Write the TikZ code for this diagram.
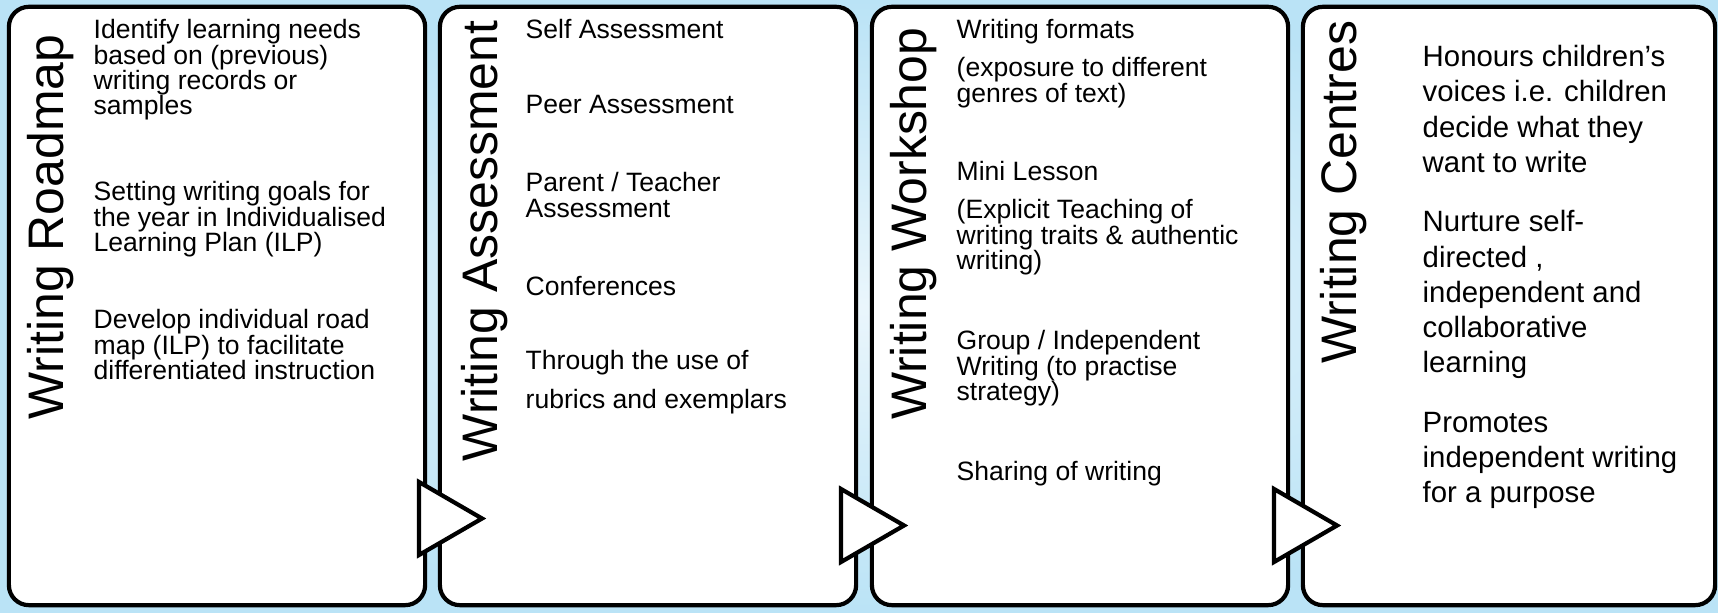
\documentclass[tikz,border=0pt]{standalone}
\usepackage{fontspec}
\setmainfont{Liberation Sans}
\usetikzlibrary{shapes.geometric}
\definecolor{skyedge}{HTML}{BAE3F6}
\definecolor{skymid}{HTML}{EAF6FC}
\tikzset{
    panel/.style = {
        draw,
        shape=rectangle,
        rounded corners=0.2cm,
        minimum height=5.98cm,
        minimum width=4.16cm,
        line width=0.042cm,
        fill=white
    },
    heading/.style = {
        rotate=90,
        anchor=base east,
        inner sep=0pt,
        font=\fontsize{14.2}{17}\selectfont
    },
    item/.style = {
        anchor=north west,
        inner sep=0pt,
        align=left,
        font=\fontsize{7.55}{7.15}\selectfont
    },
    bigitem/.style = {
        item,
        font=\fontsize{8.35}{9.96}\selectfont
    },
    chevron/.style = {
        draw,
        shape=isosceles triangle,
        isosceles triangle stretches,
        minimum width=0.73cm,
        minimum height=0.63cm,
        inner sep=0pt,
        outer sep=0pt,
        anchor=lower side,
        line width=0.042cm,
        fill=white
    }
}

\begin{document}
\begin{tikzpicture}[x=0.01cm,y=-0.01cm]
            \useasboundingbox (0,0) rectangle (1718,613);
            \shade[inner color=skymid, outer color=skyedge] (0,0) rectangle (1718,613);

            \node[panel] (roadmap) at (217,306) {};
            \node[panel] (assessment) at (648,306) {};
            \node[panel] (workshop) at (1080,306) {};
            \node[panel, minimum width=4.12cm] (centres) at (1509,306) {};

            \node[chevron] (roadmapnext) at (419,518.5) {};
            \node[chevron] (assessmentnext) at (841,525.5) {};
            \node[chevron] (workshopnext) at (1274,525.5) {};

            \node[heading] (roadmaptitle) at (64,34) {Writing Roadmap};
            \node[heading] (assessmenttitle) at (497,20) {Writing Assessment};
            \node[heading] (workshoptitle) at (926,27) {Writing Workshop};
            \node[heading] (centrestitle) at (1356,20) {Writing Centres};

            \node[item] (needs) at (93,19) {Identify learning needs\\based on (previous)\\writing records or\\samples};
            \node[item] (goals) at (93,181) {Setting writing goals for\\the year in Individualised\\Learning Plan (ILP)};
            \node[item] (ilp) at (93,309) {Develop individual road\\map (ILP) to facilitate\\differentiated instruction};

            \node[item] (self) at (525,19) {Self Assessment};
            \node[item] (peer) at (525,95) {Peer Assessment};
            \node[item] (parent) at (525,172) {Parent / Teacher\\Assessment};
            \node[item] (conferences) at (525,276) {Conferences};
            \node[item, font=\fontsize{7.55}{11.1}\selectfont] (rubrics) at (525,350) {Through the use of\\rubrics and exemplars};

            \node[item] (formats) at (956,19) {Writing formats};
            \node[item] (exposure) at (956,57) {(exposure to different\\genres of text)};
            \node[item] (mini) at (956,161) {Mini Lesson};
            \node[item] (explicit) at (956,199) {(Explicit Teaching of\\writing traits \& authentic\\writing)};
            \node[item] (group) at (956,330) {Group / Independent\\Writing (to practise\\strategy)};
            \node[item] (sharing) at (956,461) {Sharing of writing};

            \node[bigitem] (voices) at (1422,45) {Honours children’s\\voices i.e. children\\decide what they\\want to write};
            \node[bigitem] (nurture) at (1422,210) {Nurture self-\\directed ,\\independent and\\collaborative\\learning};
            \node[bigitem] (promotes) at (1422,412) {Promotes\\independent writing\\for a purpose};

        \end{tikzpicture}
\end{document}
